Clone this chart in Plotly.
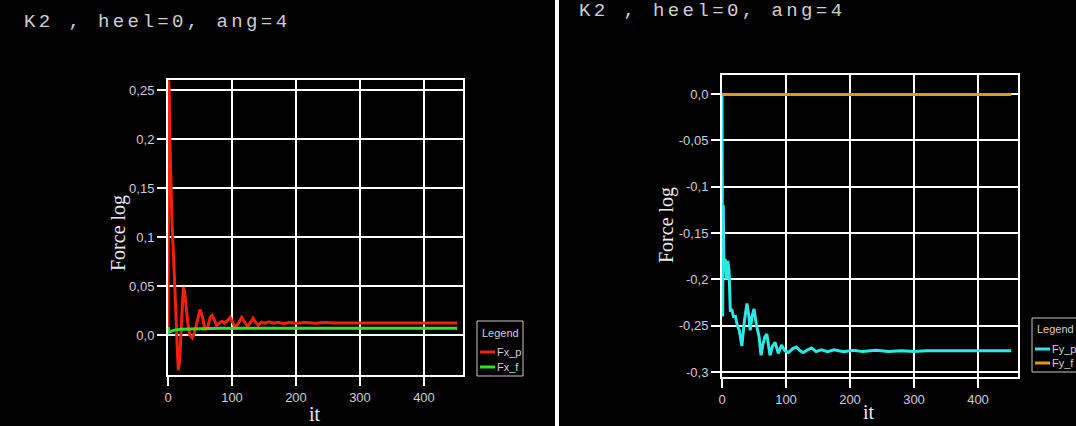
import plotly.graph_objects as go

W, H = 1076, 426

# ---------------- data ----------------
title_text = "K2 , heel=0, ang=4"

fxp_it = [0, 1, 2, 3, 4, 5, 6, 8, 10, 12, 14, 16, 18, 20, 22, 24, 26, 28, 31, 34, 38, 42, 46, 50,
          54, 58, 62, 66, 69, 72, 76, 80, 84, 88, 92, 97, 101, 105, 110, 115, 120, 124, 128, 133,
          137, 141, 146, 152, 158, 165, 172, 180, 190, 200, 215, 230, 245, 260, 452]
fxp_val = [0.002, 0.26, 0.245, 0.2, 0.17, 0.145, 0.12, 0.09, 0.06, 0.025, -0.01, -0.036, -0.028,
           0.0, 0.03, 0.049, 0.044, 0.03, 0.012, 0.0, -0.003, 0.004, 0.016, 0.026, 0.018, 0.005,
           0.008, 0.018, 0.020, 0.015, 0.010, 0.012, 0.014, 0.012, 0.014, 0.018, 0.013, 0.008,
           0.012, 0.018, 0.013, 0.009, 0.012, 0.017, 0.013, 0.010, 0.013, 0.012, 0.0135, 0.012,
           0.013, 0.0118, 0.0128, 0.012, 0.0128, 0.012, 0.0128, 0.0122, 0.0122]

fxf_it = [0, 2, 5, 10, 20, 40, 80, 452]
fxf_val = [0.008, 0.003, 0.004, 0.005, 0.006, 0.0065, 0.0068, 0.0068]

fyp_it = [0, 1, 2, 3, 5, 7, 9, 11, 13, 15, 18, 21, 24, 27, 31, 35, 39, 42, 44, 47, 50, 54, 58,
          61, 64, 67, 70, 73, 75, 79, 83, 88, 93, 98, 104, 110, 116, 122, 127, 134, 140, 147,
          155, 165, 175, 190, 205, 220, 240, 260, 280, 300, 320, 452]
fyp_val = [0.0, -0.24, -0.12, -0.19, -0.178, -0.20, -0.18, -0.19, -0.235, -0.232, -0.24, -0.24,
           -0.25, -0.255, -0.272, -0.245, -0.226, -0.24, -0.255, -0.24, -0.232, -0.25, -0.262,
           -0.282, -0.27, -0.262, -0.259, -0.275, -0.282, -0.272, -0.268, -0.280, -0.271, -0.277,
           -0.279, -0.275, -0.273, -0.277, -0.279, -0.276, -0.274, -0.278, -0.276, -0.278,
           -0.276, -0.278, -0.2765, -0.278, -0.2765, -0.278, -0.277, -0.278, -0.277, -0.277]

fyf_it = [0, 452]
fyf_val = [-0.0005, -0.0005]

left_yticks = [0.0, 0.05, 0.1, 0.15, 0.2, 0.25]
left_yticktext = ["0,0", "0,05", "0,1", "0,15", "0,2", "0,25"]
right_yticks = [-0.3, -0.25, -0.2, -0.15, -0.1, -0.05, 0.0]
right_yticktext = ["-0,3", "-0,25", "-0,2", "-0,15", "-0,1", "-0,05", "0,0"]
xticks = [0, 100, 200, 300, 400]
xticktext = ["0", "100", "200", "300", "400"]

RED, GREEN, CYAN, ORANGE = "#f4200c", "#30e030", "#2ee8e8", "#ea9420"

# ---------------- helpers ----------------
def px(X):
    return X / W

def py(Y):
    return 1 - Y / H

fig = go.Figure()
fig.add_trace(go.Scatter(x=fxp_it, y=fxp_val, name="Fx_p", mode="lines",
                         line=dict(color=RED, width=3), xaxis="x", yaxis="y"))
fig.add_trace(go.Scatter(x=fxf_it, y=fxf_val, name="Fx_f", mode="lines",
                         line=dict(color=GREEN, width=3), xaxis="x", yaxis="y"))
fig.add_trace(go.Scatter(x=fyp_it, y=fyp_val, name="Fy_p", mode="lines",
                         line=dict(color=CYAN, width=3), xaxis="x2", yaxis="y2"))
fig.add_trace(go.Scatter(x=fyf_it, y=fyf_val, name="Fy_f", mode="lines",
                         line=dict(color=ORANGE, width=3), xaxis="x2", yaxis="y2"))

tickfont = dict(family="Liberation Sans, Arial, sans-serif", size=13, color="#cfcfcf")
axis_common = dict(showline=True, mirror=True, linecolor="white", linewidth=2,
                   showgrid=True, gridcolor="white", gridwidth=2, zeroline=False,
                   ticks="outside", ticklen=9, tickwidth=2, tickcolor="white",
                   tickfont=tickfont, tickmode="array", layer="below traces")

fig.update_layout(
    width=W, height=H,
    margin=dict(l=0, r=0, t=0, b=0, autoexpand=False),
    paper_bgcolor="black", plot_bgcolor="black",
    showlegend=False,
    xaxis=dict(domain=[px(168), px(463)], range=[0, 461], tickvals=xticks, ticktext=xticktext,
               anchor="y", **axis_common),
    yaxis=dict(domain=[py(375), py(80)], range=[-0.0408, 0.2602], tickvals=left_yticks,
               ticktext=left_yticktext, anchor="x", **axis_common),
    xaxis2=dict(domain=[px(722), px(1018)], range=[0, 462.5], tickvals=xticks, ticktext=xticktext,
                anchor="y2", **axis_common),
    yaxis2=dict(domain=[py(377), py(75)], range=[-0.3054, 0.0205], tickvals=right_yticks,
                ticktext=right_yticktext, anchor="x2", **axis_common),
)

shapes = [dict(type="rect", xref="paper", yref="paper", x0=px(555), x1=px(559), y0=0, y1=1,
               fillcolor="white", line=dict(width=0))]
annotations = []

title_font = dict(family="Liberation Mono, DejaVu Sans Mono, monospace", size=19, color="#cfcfcf")
styled_title = '<span style="letter-spacing:3.4px">' + title_text + '</span>'
for X, Y in [(22, 22), (577, 11)]:
    annotations.append(dict(text=styled_title, xref="paper", yref="paper", x=px(X), y=py(Y),
                            xanchor="left", yanchor="middle", showarrow=False, font=title_font))

label_font = dict(family="Liberation Serif, Times New Roman, serif", size=20, color="#ececec")
for X, Y in [(118, 233), (667, 225)]:
    annotations.append(dict(text="Force log", xref="paper", yref="paper", x=px(X), y=py(Y),
                            xanchor="center", yanchor="middle", textangle=-90, showarrow=False,
                            font=label_font))
for X, Y in [(315, 414), (869, 412)]:
    annotations.append(dict(text="it", xref="paper", yref="paper", x=px(X), y=py(Y),
                            xanchor="center", yanchor="middle", showarrow=False, font=label_font))

# legends (drawn as boxes, keyed by the traces)
leg_font = dict(family="Liberation Sans, Arial, sans-serif", size=11, color="#d0d0d0")
legends = [
    dict(box=(477, 523, 321, 376), title_y=333, items=[("Fx_p", RED, 352), ("Fx_f", GREEN, 367)]),
    dict(box=(1032, 1078, 318, 372), title_y=329, items=[("Fy_p", CYAN, 349), ("Fy_f", ORANGE, 363)]),
]
for lg in legends:
    x0, x1, y0, y1 = lg["box"]
    shapes.append(dict(type="rect", xref="paper", yref="paper", x0=px(x0), x1=px(x1),
                       y0=py(y1), y1=py(y0), line=dict(color="#c8c8c8", width=1),
                       fillcolor="rgba(0,0,0,0)"))
    annotations.append(dict(text="Legend", xref="paper", yref="paper", x=px((x0 + x1) / 2),
                            y=py(lg["title_y"]), xanchor="center", yanchor="middle",
                            showarrow=False, font=leg_font))
    for name, color, yy in lg["items"]:
        shapes.append(dict(type="line", xref="paper", yref="paper", x0=px(x0 + 3), x1=px(x0 + 18),
                           y0=py(yy), y1=py(yy), line=dict(color=color, width=3)))
        annotations.append(dict(text=name, xref="paper", yref="paper", x=px(x0 + 18),
                                y=py(yy), xanchor="left", yanchor="middle", showarrow=False,
                                font=leg_font))

fig.update_layout(shapes=shapes, annotations=annotations)
fig.write_html("out.html")
